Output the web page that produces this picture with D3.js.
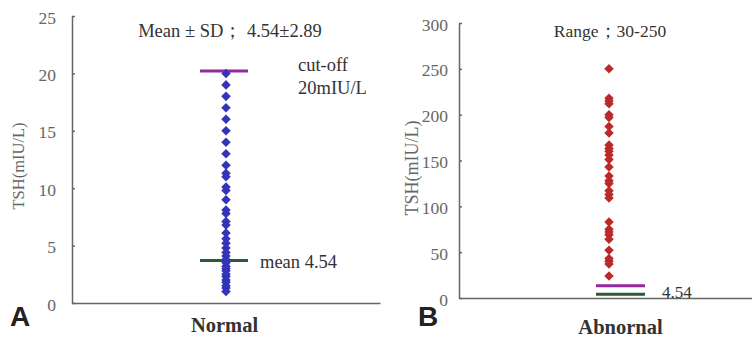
<!DOCTYPE html>
<html>
<head>
<meta charset="utf-8">
<script src="https://cdn.jsdelivr.net/npm/d3@7"></script>
<style>
  body { margin: 0; background: #fff; }
  svg { display: block; }
</style>
</head>
<body>
<div id="chart"></div>
<script>
// values
const normalCategory = ["Normal"];
const normalValues = [20, 19, 18, 17, 16, 15, 14, 13, 12, 11.3, 11, 10.1, 9.8, 9, 8.1, 7.8, 7.1, 6.8,
  6.1, 5.6, 5.2, 4.8, 4.4, 4.1, 3.8, 3.5, 3.2, 3, 2.8, 2.5, 2.3, 2, 1.8, 1.5, 1.3, 1];
const normalTicks = [0, 5, 10, 15, 20, 25];
const normalCutoff = 20.2;
const normalMeanLine = 3.7;

const abnormalCategory = ["Abnornal"];
const abnormalValues = [250, 218, 215, 212, 200, 197, 187, 180, 167, 163, 160, 156, 151, 143, 133,
  128, 125, 117, 113, 109, 83, 75, 72, 69, 64, 52, 43, 40, 37, 24];
const abnormalTicks = [0, 50, 100, 150, 200, 250, 300];
const abnormalCutoff = 13.4;
const abnormalMeanLine = 4;

const W = 752, H = 337;
const serif = "'Liberation Serif', 'Times New Roman', serif";

const svg = d3.select("#chart").append("svg")
  .attr("width", W).attr("height", H);

function drawPanel(opt) {
  const g = svg.append("g");

  const x = d3.scalePoint().domain(opt.cats).range(opt.xRange).padding(0.5);
  const y = d3.scaleLinear().domain([0, d3.max(opt.ticks)]).range([opt.bottom, opt.top]);

  // y axis
  const yAxis = g.append("g")
    .attr("transform", "translate(" + opt.xRange[0] + ",0)")
    .call(d3.axisLeft(y).tickValues(opt.ticks).tickSize(-3).tickSizeOuter(0).tickPadding(opt.tickPad))
    .attr("font-family", serif);
  yAxis.select(".domain").attr("stroke", "#666").attr("stroke-width", 1.5);
  yAxis.selectAll(".tick line").attr("stroke", "#666").attr("stroke-width", 1.5);
  yAxis.selectAll(".tick text").attr("font-size", 17.5).attr("fill", "#666").attr("dy", "0.4em");

  // x axis
  const xAxis = g.append("g")
    .attr("transform", "translate(0," + opt.bottom + ")")
    .call(d3.axisBottom(x).tickSize(0).tickSizeOuter(0).tickPadding(opt.catPad))
    .attr("font-family", serif);
  xAxis.select(".domain").attr("stroke", "#666").attr("stroke-width", 1.5);
  xAxis.selectAll(".tick text")
    .attr("font-size", 20.5).attr("font-weight", "bold").attr("fill", "#333")
    .attr("dx", opt.catDx);

  // y title
  g.append("text")
    .attr("transform", "translate(" + opt.titleX + "," + opt.titleY + ") rotate(-90)")
    .attr("text-anchor", "middle")
    .attr("font-family", serif).attr("font-size", opt.titleSize).attr("fill", "#666")
    .text("TSH(mIU/L)");

  // reference lines
  const cx = x(opt.cats[0]);
  [[opt.cutoff, "#93299c"], [opt.meanLine, "#2e5a32"]].forEach(([v, c]) => {
    g.append("line")
      .attr("x1", cx + opt.lineL).attr("x2", cx + opt.lineR)
      .attr("y1", y(v)).attr("y2", y(v))
      .attr("stroke", c).attr("stroke-width", 3);
  });

  // points
  g.selectAll("path.pt").data(opt.values).join("path")
    .attr("class", "pt")
    .attr("d", d3.symbol(d3.symbolDiamond2, 58))
    .attr("transform", d => "translate(" + cx + "," + y(d) + ")")
    .attr("fill", opt.color);

  // panel letter
  g.append("text")
    .attr("x", opt.letterX).attr("y", 326)
    .attr("font-family", "'Liberation Sans', Arial, sans-serif")
    .attr("font-size", 28).attr("font-weight", "bold").attr("fill", "#222")
    .text(opt.letter);

  // annotations
  opt.notes.forEach(n => {
    g.append("text")
      .attr("x", n.x).attr("y", n.y)
      .attr("text-anchor", n.anchor || "start")
      .attr("font-family", serif).attr("font-size", n.size || 18.5).attr("fill", "#333")
      .text(n.t);
  });
}

drawPanel({
  cats: normalCategory, values: normalValues, ticks: normalTicks,
  cutoff: normalCutoff, meanLine: normalMeanLine,
  xRange: [72, 380], top: 16, bottom: 303, tickPad: 16, catPad: 14, catDx: -2,
  titleX: 24, titleY: 166, titleSize: 16.5,
  lineL: -26, lineR: 22, color: "#3434b8", letter: "A", letterX: 10,
  notes: [
    { t: "Mean \u00b1 SD\uff1b 4.54\u00b12.89", x: 230, y: 37, anchor: "middle" },
    { t: "cut-off", x: 298, y: 71 },
    { t: "20mIU/L", x: 298, y: 94 },
    { t: "mean 4.54", x: 260, y: 268 }
  ]
});

drawPanel({
  cats: abnormalCategory, values: abnormalValues, ticks: abnormalTicks,
  cutoff: abnormalCutoff, meanLine: abnormalMeanLine,
  xRange: [459, 759], top: 23, bottom: 298, tickPad: 11, catPad: 21, catDx: 11,
  titleX: 418, titleY: 168, titleSize: 18,
  lineL: -13, lineR: 36, color: "#bb2a2a", letter: "B", letterX: 418,
  notes: [
    { t: "Range\uff1b30-250", x: 610, y: 37, anchor: "middle", size: 17.5 },
    { t: "4.54", x: 662, y: 298, size: 17 }
  ]
});
</script>
</body>
</html>
